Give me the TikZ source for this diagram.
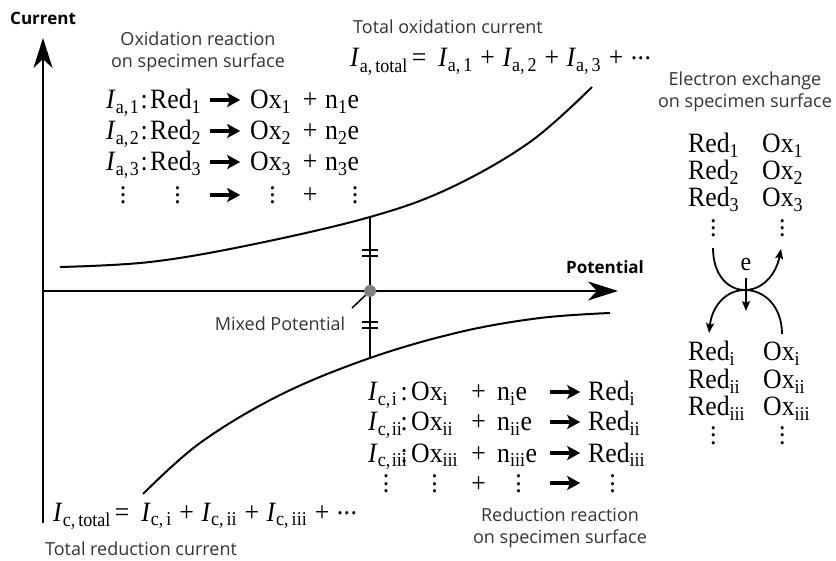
\documentclass[tikz,border=0pt]{standalone}
\usepackage{fontspec}
\setmainfont{Liberation Serif}[FakeStretch=0.92]
\newfontfamily\labfont{Open Sans}
\usetikzlibrary{arrows.meta}
\newcommand{\sbs}[1]{\textsubscript{#1}}
\newcommand{\Ia}[1]{\textit{I}\textsubscript{a,\kern1.5pt#1}}
\newcommand{\Ic}[1]{\textit{I}\textsubscript{c,\kern1.5pt#1}}
\newcommand{\Iaw}[1]{\textit{I}\textsubscript{a,\kern3pt#1}}
\newcommand{\Icw}[1]{\textit{I}\textsubscript{c,\kern3pt#1}}
\newcommand{\pl}{\kern7.5pt+\kern7.5pt}
\newcommand{\harr}{\tikz[baseline=-9pt]\draw[line width=3.2pt,-{Stealth[length=13pt,width=14pt,inset=3pt]}](0pt,0pt)--(30pt,0pt);}
\newcommand{\vd}{\vbox{\baselineskip=7pt\lineskiplimit=0pt\hbox{.}\hbox{.}\hbox{.}}}
\newcommand{\cdts}{\raisebox{7pt}{.\kern0.5pt.\kern0.5pt.}}
\newcommand{\orow}[6]{\makebox[32pt][l]{#1}\makebox[12pt][c]{:}\makebox[55pt][l]{#2}\makebox[40pt][c]{#3}\makebox[55pt][l]{#4}\makebox[20pt][c]{#5}\makebox[58pt][l]{#6}}
\newcommand{\odots}{\makebox[34pt][c]{\vd}\makebox[10pt]{}\makebox[55pt][c]{\vd}\makebox[40pt][c]{\harr}\makebox[55pt][c]{\vd}\makebox[20pt][c]{+}\makebox[58pt][c]{\hspace{12pt}\vd}}
\newcommand{\rrow}[6]{\makebox[32pt][l]{#1}\makebox[8pt][c]{:}\makebox[57pt][l]{#2}\makebox[27pt][c]{#3}\makebox[53pt][l]{#4}\makebox[40pt][c]{#5}\makebox[55pt][l]{#6}}
\newcommand{\rdots}{\makebox[36pt][c]{\vd}\makebox[61pt][c]{\vd}\makebox[27pt][c]{+}\makebox[53pt][c]{\vd}\makebox[40pt][c]{\harr}\makebox[55pt][c]{\vd}}
\begin{document}
\begin{tikzpicture}[x=1pt,y=-1pt,
  eq/.style={font=\fontsize{28}{30}\selectfont, inner sep=0pt, anchor=base west},
  lbl/.style={font=\labfont\fontsize{18}{22}\selectfont, text=black!80, align=center, inner sep=0pt},
  blbl/.style={font=\labfont\bfseries\fontsize{17}{20}\selectfont, inner sep=0pt},
  axis/.style={line width=2.5pt, -{Stealth[length=30pt,width=19pt,inset=9pt]}},
  curve/.style={line width=2pt},
  thinl/.style={line width=2pt},
  earr/.style={line width=1.8pt, -{Stealth[length=10pt,width=8pt,inset=2pt]}}]
\useasboundingbox (0,0) rectangle (836,561);

% axes
\coordinate (O) at (43,291);
\coordinate (ytop) at (43,38);
\coordinate (ybot) at (43,523);
\coordinate (xend) at (618,291);
\draw[axis] (ybot) -- (ytop);
\draw[axis] (O) -- (xend);
\node[blbl, anchor=west] (cur) at (10,18) {Current};
\node[blbl] (pot) at (605,267) {Potential};

% curves
\draw[curve] plot[smooth, tension=0.6] coordinates {(60,267) (150,262) (250,245) (370,217) (450,188) (530,142) (592,87)};
\draw[curve] plot[smooth, tension=0.6] coordinates {(143,494) (200,443) (280,395) (370,358) (460,332) (540,318) (610,313)};

% mixed potential
\coordinate (up) at (370,217);
\coordinate (lo) at (370,358);
\draw[thinl] (up) -- (lo);
\foreach \yy in {250,256,322,328} \draw[thinl] (362,\yy) -- (378,\yy);
\node[circle, fill=gray, minimum size=12pt, inner sep=0pt] (mp) at (370,291) {};
\coordinate (mpp) at (352,308);
\draw[line width=1.5pt] (mp) -- (mpp);
\node[lbl] (mpl) at (280,324) {Mixed Potential};

% labels
\node[lbl] (oxl) at (198,52) {Oxidation reaction\\on specimen surface};
\node[lbl] (tox) at (448,27) {Total oxidation current};
\node[lbl] (eel) at (745,92) {Electron exchange\\on specimen surface};
\node[lbl] (rdl) at (560,528) {Reduction reaction\\on specimen surface};
\node[lbl] (trl) at (141,549) {Total reduction current};

% total equations
\node[eq] (iat) at (350,67) {\Iaw{total}\kern4pt=\kern12pt\Iaw{1}\pl\Iaw{2}\pl\Iaw{3}\pl\cdts};
\node[eq] (ict) at (53,521) {\Icw{total}\kern4pt=\kern12pt\Icw{i}\pl\Icw{ii}\pl\Icw{iii}\pl\cdts};

% oxidation reactions
\node[eq] (ox1) at (106,109) {\orow{\Ia{1}}{Red\sbs{1}}{\harr}{\hspace{5pt}Ox\sbs{1}}{+}{\hspace{5pt}n\sbs{1}e}};
\node[eq] (ox2) at (106,140) {\orow{\Ia{2}}{Red\sbs{2}}{\harr}{\hspace{5pt}Ox\sbs{2}}{+}{\hspace{5pt}n\sbs{2}e}};
\node[eq] (ox3) at (106,171) {\orow{\Ia{3}}{Red\sbs{3}}{\harr}{\hspace{5pt}Ox\sbs{3}}{+}{\hspace{5pt}n\sbs{3}e}};
\node[eq] (ox4) at (106,204) {\odots};

% reduction reactions
\node[eq] (rd1) at (368,401) {\rrow{\Ic{i}}{\hspace{3pt}Ox\sbs{i}}{+}{\hspace{5pt}n\sbs{i}e}{\harr}{\hspace{3pt}Red\sbs{i}}};
\node[eq] (rd2) at (368,431) {\rrow{\Ic{ii}}{\hspace{3pt}Ox\sbs{ii}}{+}{\hspace{5pt}n\sbs{ii}e}{\harr}{\hspace{3pt}Red\sbs{ii}}};
\node[eq] (rd3) at (368,462) {\rrow{\Ic{iii}}{\hspace{3pt}Ox\sbs{iii}}{+}{\hspace{5pt}n\sbs{iii}e}{\harr}{\hspace{3pt}Red\sbs{iii}}};
\node[eq] (rd4) at (368,492) {\rdots};

% electron exchange
\foreach \n/\t/\yy in {1/1/153, 2/2/180, 3/3/207} {
  \node[eq] (er\n) at (688,\yy) {Red\sbs{\t}};
  \node[eq] (eo\n) at (762,\yy) {Ox\sbs{\t}};
}
\node[eq] (erd) at (710,237) {\vd};
\node[eq] (eod) at (779,237) {\vd};
\foreach \n/\t/\yy in {1/i/361, 2/ii/389, 3/iii/416} {
  \node[eq] (fr\n) at (688,\yy) {Red\sbs{\t}};
  \node[eq] (fo\n) at (763,\yy) {Ox\sbs{\t}};
}
\node[eq] (frd) at (710,444) {\vd};
\node[eq] (fod) at (779,444) {\vd};

\coordinate (c1s) at (713,248);
\coordinate (cx) at (745,290);
\coordinate (c1e) at (781,249);
\coordinate (c2s) at (782,334);
\coordinate (c2e) at (709,333);
\draw[earr] (c1s) .. controls (713,275) and (728,290) .. (cx) .. controls (762,290) and (776,275) .. (c1e);
\draw[earr] (c2s) .. controls (782,306) and (764,290) .. (cx) .. controls (726,290) and (712,306) .. (c2e);
\node[eq, anchor=center, font=\fontsize{26}{26}\selectfont] (el) at (746,265) {e};
\coordinate (ea) at (746,278);
\coordinate (eb) at (746,311);
\draw[earr] (ea) -- (eb);
\end{tikzpicture}
\end{document}
